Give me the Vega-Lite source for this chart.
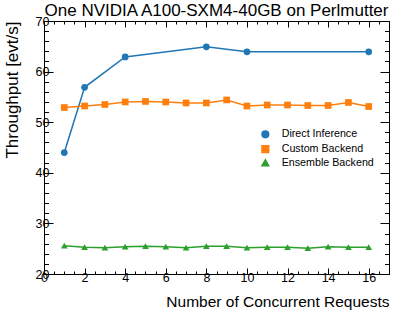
{
  "$schema": "https://vega.github.io/schema/vega-lite/v6.json",
  "width": 345,
  "height": 253,
  "autosize": "none",
  "padding": {"left": 44, "top": 21, "right": 7, "bottom": 44},
  "background": "white",
  "title": {"text": "One NVIDIA A100-SXM4-40GB on Perlmutter", "font": "Liberation Sans", "fontSize": 17, "fontWeight": "normal", "color": "black", "anchor": "middle", "offset": -5},
  "config": {
    "view": {"stroke": "black", "strokeWidth": 1}
  },
  "data": {"values": [
    {"n": 1, "series": "Direct Inference", "value": 44},
    {"n": 2, "series": "Direct Inference", "value": 56.9},
    {"n": 4, "series": "Direct Inference", "value": 62.9},
    {"n": 8, "series": "Direct Inference", "value": 64.9},
    {"n": 10, "series": "Direct Inference", "value": 63.9},
    {"n": 16, "series": "Direct Inference", "value": 63.9},
    {"n": 1, "series": "Custom Backend", "value": 52.9},
    {"n": 2, "series": "Custom Backend", "value": 53.2},
    {"n": 3, "series": "Custom Backend", "value": 53.5},
    {"n": 4, "series": "Custom Backend", "value": 54.0},
    {"n": 5, "series": "Custom Backend", "value": 54.1},
    {"n": 6, "series": "Custom Backend", "value": 54.0},
    {"n": 7, "series": "Custom Backend", "value": 53.8},
    {"n": 8, "series": "Custom Backend", "value": 53.8},
    {"n": 9, "series": "Custom Backend", "value": 54.4},
    {"n": 10, "series": "Custom Backend", "value": 53.2},
    {"n": 11, "series": "Custom Backend", "value": 53.4},
    {"n": 12, "series": "Custom Backend", "value": 53.4},
    {"n": 13, "series": "Custom Backend", "value": 53.3},
    {"n": 14, "series": "Custom Backend", "value": 53.3},
    {"n": 15, "series": "Custom Backend", "value": 53.9},
    {"n": 16, "series": "Custom Backend", "value": 53.1},
    {"n": 1, "series": "Ensemble Backend", "value": 25.6},
    {"n": 2, "series": "Ensemble Backend", "value": 25.3},
    {"n": 3, "series": "Ensemble Backend", "value": 25.2},
    {"n": 4, "series": "Ensemble Backend", "value": 25.4},
    {"n": 5, "series": "Ensemble Backend", "value": 25.5},
    {"n": 6, "series": "Ensemble Backend", "value": 25.4},
    {"n": 7, "series": "Ensemble Backend", "value": 25.2},
    {"n": 8, "series": "Ensemble Backend", "value": 25.5},
    {"n": 9, "series": "Ensemble Backend", "value": 25.5},
    {"n": 10, "series": "Ensemble Backend", "value": 25.2},
    {"n": 11, "series": "Ensemble Backend", "value": 25.3},
    {"n": 12, "series": "Ensemble Backend", "value": 25.3},
    {"n": 13, "series": "Ensemble Backend", "value": 25.1},
    {"n": 14, "series": "Ensemble Backend", "value": 25.4},
    {"n": 15, "series": "Ensemble Backend", "value": 25.3},
    {"n": 16, "series": "Ensemble Backend", "value": 25.3}
  ]},
  "layer": [
    {
      "mark": {"type": "line", "strokeWidth": 1.5},
      "encoding": {
        "x": {"field": "n", "type": "quantitative", "scale": {"domain": [0, 17], "nice": false, "zero": false},
          "axis": {"orient": "bottom", "domain": false, "grid": false, "tickColor": "black", "tickWidth": 1,
            "values": [0,0.5,1,1.5,2,2.5,3,3.5,4,4.5,5,5.5,6,6.5,7,7.5,8,8.5,9,9.5,10,10.5,11,11.5,12,12.5,13,13.5,14,14.5,15,15.5,16,16.5,17],
            "labelExpr": "datum.value % 2 === 0 ? format(datum.value, 'd') : ''",
            "tickSize": {"condition": {"test": "datum.value % 2 === 0", "value": -6}, "value": -3},
            "labelPadding": 3, "labelFlush": false, "labelOverlap": false,
            "labelColor": "black", "labelFont": "Liberation Sans", "labelFontSize": 12.5,
            "title": "Number of Concurrent Requests", "titleAnchor": "end", "titlePadding": 8,
            "titleFont": "Liberation Sans", "titleFontSize": 15.5, "titleFontWeight": "normal", "titleColor": "black"}},
        "y": {"field": "value", "type": "quantitative", "scale": {"domain": [20, 70], "nice": false, "zero": false},
          "axis": {"orient": "left", "domain": false, "grid": false, "tickColor": "black", "tickWidth": 1,
            "values": [20,22,24,26,28,30,32,34,36,38,40,42,44,46,48,50,52,54,56,58,60,62,64,66,68,70],
            "labelExpr": "datum.value % 10 === 0 ? format(datum.value, 'd') : ''",
            "tickSize": {"condition": {"test": "datum.value % 10 === 0", "value": -9}, "value": -4.5},
            "labelPadding": 4, "labelFlush": false, "labelOverlap": false,
            "labelColor": "black", "labelFont": "Liberation Sans", "labelFontSize": 12.5,
            "title": "Throughput [evt/s]", "titleAnchor": "end", "titleX": -23, "titleBaseline": "bottom",
            "titleFont": "Liberation Sans", "titleFontSize": 17, "titleFontWeight": "normal", "titleColor": "black"}},
        "color": {"field": "series", "type": "nominal", "scale": {"domain": ["Direct Inference", "Custom Backend", "Ensemble Backend"], "range": ["#1f77b4", "#ff7f0e", "#2ca02c"]},
          "legend": {"orient": "none", "legendX": 216, "legendY": 108, "title": null, "padding": 0,
            "labelFont": "Liberation Sans", "labelFontSize": 10.7, "labelColor": "black",
            "symbolSize": 45, "labelOffset": 11, "rowPadding": 0.7, "symbolOpacity": 1}}
      }
    },
    {
      "mark": {"type": "point", "filled": true, "opacity": 1, "size": 45},
      "encoding": {
        "x": {"field": "n", "type": "quantitative",
          "axis": {"orient": "top", "domain": false, "grid": false, "tickColor": "black", "tickWidth": 1,
            "values": [0,0.5,1,1.5,2,2.5,3,3.5,4,4.5,5,5.5,6,6.5,7,7.5,8,8.5,9,9.5,10,10.5,11,11.5,12,12.5,13,13.5,14,14.5,15,15.5,16,16.5,17],
            "labels": false, "title": null,
            "tickSize": {"condition": {"test": "datum.value % 2 === 0", "value": -6}, "value": -3}}},
        "y": {"field": "value", "type": "quantitative",
          "axis": {"orient": "right", "domain": false, "grid": false, "tickColor": "black", "tickWidth": 1,
            "values": [20,22,24,26,28,30,32,34,36,38,40,42,44,46,48,50,52,54,56,58,60,62,64,66,68,70],
            "labels": false, "title": null,
            "tickSize": {"condition": {"test": "datum.value % 10 === 0", "value": -9}, "value": -4.5}}},
        "color": {"field": "series", "type": "nominal",
          "legend": {"orient": "none", "legendX": 216, "legendY": 108, "title": null, "padding": 0,
            "labelFont": "Liberation Sans", "labelFontSize": 10.7, "labelColor": "black",
            "symbolSize": 45, "labelOffset": 11, "rowPadding": 0.7, "symbolOpacity": 1}},
        "shape": {"field": "series", "type": "nominal", "scale": {"domain": ["Direct Inference", "Custom Backend", "Ensemble Backend"], "range": ["circle", "square", "triangle-up"]}, "legend": null}
      }
    }
  ],
  "resolve": {"axis": {"x": "independent", "y": "independent"}}
}
